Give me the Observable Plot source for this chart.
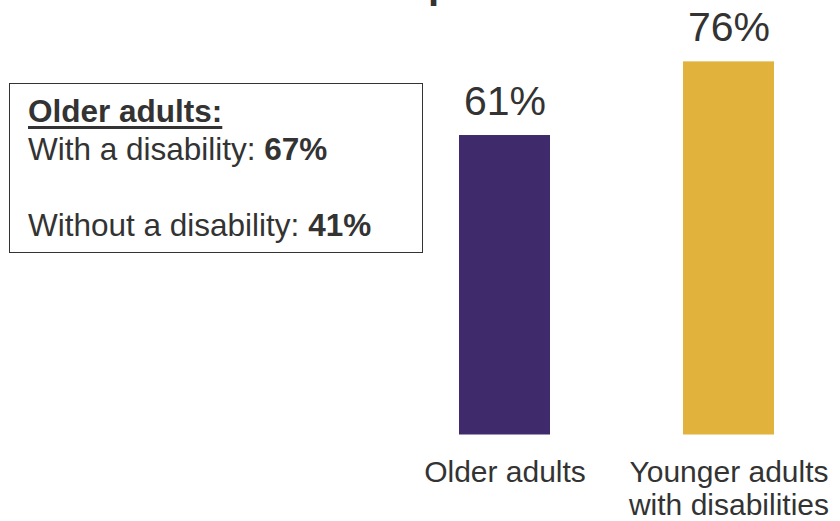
<!DOCTYPE html>
<html>
<head>
<meta charset="utf-8">
<script src="https://cdn.jsdelivr.net/npm/d3@7"></script>
<script src="https://cdn.jsdelivr.net/npm/@observablehq/plot@0.6"></script>
<style>
  html, body { margin: 0; padding: 0; background: #fff; }
  body { width: 840px; height: 521px; overflow: hidden; position: relative; font-family: "Liberation Sans", Arial, sans-serif; color: #333; }
  #chart { position: absolute; left: 0; top: 0; }
  #title { position: absolute; left: 428px; top: -36px; font-size: 40px; line-height: 40px; font-weight: bold; color: #333; white-space: nowrap; }
  #box { position: absolute; left: 9px; top: 83px; width: 414px; height: 170px; border: 1.3px solid #333; box-sizing: border-box; padding: 0 0 0 18px; font-size: 31.5px; line-height: 38px; }
  #box .h { font-weight: bold; text-decoration: underline; text-decoration-thickness: 3px; text-underline-offset: 4px; margin-top: 8px; }
  #box b { font-weight: bold; }
</style>
</head>
<body>
<div id="chart"></div>
<div id="title"></div>
<div id="box"></div>
<script>
const categories = ["Older adults", "Younger adults with disabilities"];
const values = [61, 76];
const colors = ["#3f2a6b", "#e1b23c"];
const tickLabels = ["Older adults", "Younger adults\nwith disabilities"];
const titleText = "p";
const boxTitle = "Older adults:";
const boxLabels = ["With a disability: ", "Without a disability: "];
const boxValues = ["67%", "41%"];

const data = categories.map((c, i) => ({category: c, value: values[i]}));

const plot = Plot.plot({
  width: 840,
  height: 521,
  marginTop: 0,
  marginBottom: 86.5,
  marginLeft: 0,
  marginRight: 0,
  style: {fontFamily: "'Liberation Sans', Arial, sans-serif", color: "#333", background: "transparent"},
  x: {domain: categories, range: [459, 774.4], paddingInner: 0.595, paddingOuter: 0},
  y: {domain: [0, 88.5], axis: null},
  color: {domain: categories, range: colors},
  marks: [
    Plot.barY(data, {x: "category", y: "value", fill: "category"}),
    Plot.text(data, {x: "category", y: "value", text: d => d.value + "%", lineAnchor: "bottom", dy: -21, fontSize: 41, fill: "#333"}),
    Plot.axisX({tickSize: 0, tickPadding: 23, fontSize: 30, lineHeight: 1.12, fill: "#333",
      tickFormat: d => tickLabels[categories.indexOf(d)], label: null})
  ]
});
document.getElementById("chart").appendChild(plot);

document.getElementById("title").textContent = titleText;
const box = document.getElementById("box");
const h = document.createElement("div");
h.className = "h";
h.textContent = boxTitle;
box.appendChild(h);
boxLabels.forEach((l, i) => {
  if (i > 0) { const sp = document.createElement("div"); sp.innerHTML = "&nbsp;"; box.appendChild(sp); }
  const row = document.createElement("div");
  row.appendChild(document.createTextNode(l));
  const b = document.createElement("b");
  b.textContent = boxValues[i];
  row.appendChild(b);
  box.appendChild(row);
});
</script>
</body>
</html>
